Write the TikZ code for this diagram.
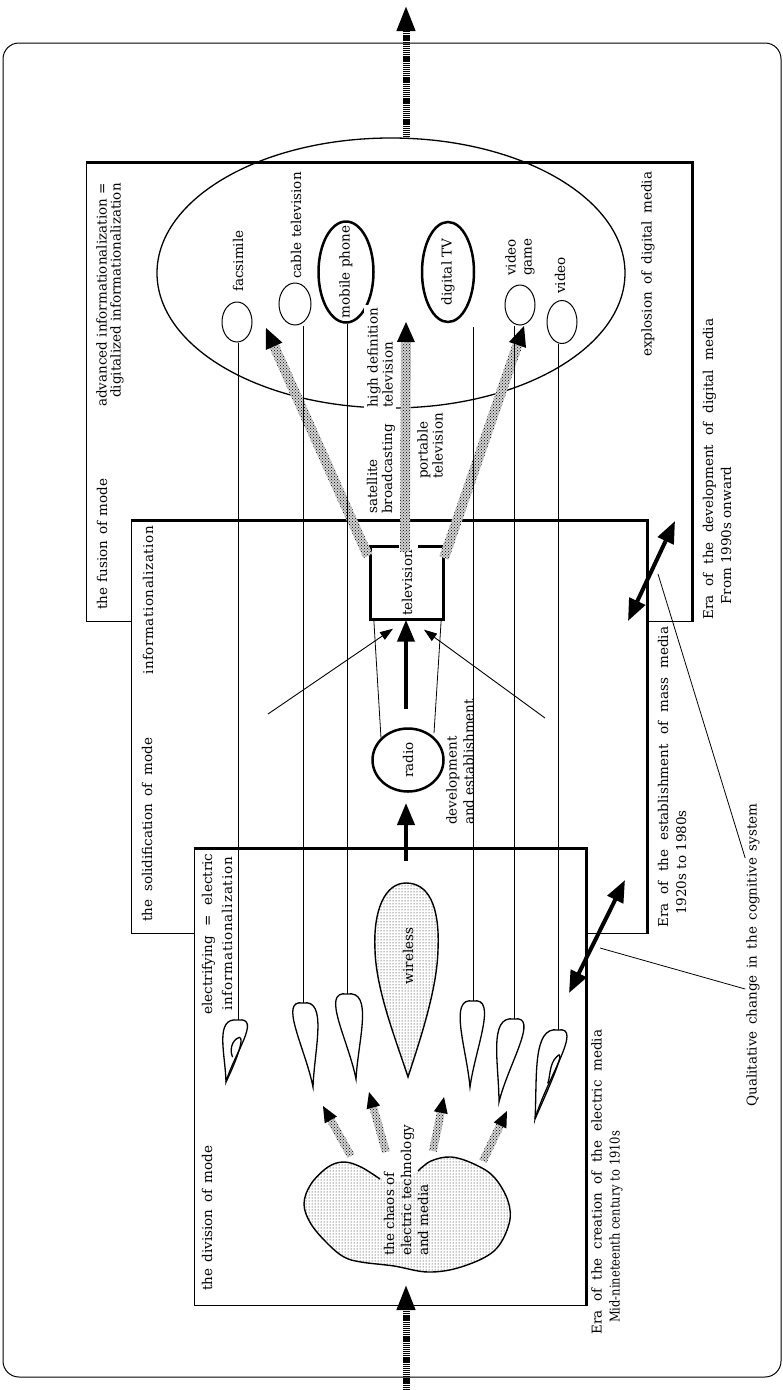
\documentclass[tikz,border=0pt]{standalone}
\usepackage{fontspec}
\setmainfont{DejaVu Serif}
\usetikzlibrary{arrows.meta,calc,patterns,shapes.geometric}

\tikzset{
  lbl/.style={rotate=90, inner sep=1pt, font=\fontsize{13.5}{16}\selectfont},
  erabox/.style={draw, fill=white, line width=1pt, inner sep=0pt},
  eraedge/.style={line width=2.3pt},
  thinline/.style={line width=0.8pt},
  media/.style={draw, ellipse, line width=1pt, inner sep=0pt},
  ring/.style={line width=2.5pt},
  fatarrow/.style={line width=4pt, -{Triangle[length=22pt,width=17pt]}},
  duoarrow/.style={line width=4pt, {Triangle[length=22pt,width=17pt]}-{Triangle[length=22pt,width=17pt]}},
  feeler/.style={line width=0.9pt, -{Triangle[length=13pt,width=9pt]}},
  timeline/.style={line width=7pt, dash pattern=on 1.3pt off 0.8pt, -{Triangle[length=26pt,width=17pt]}},
  petalline/.style={line width=1.3pt, fill=white},
}

% loose word spacing up to a given length (pt)
\newcommand\spread[2]{\makebox[#1pt][s]{#2}}
% squeeze text to a given length (pt)
\newcommand\squeeze[2]{\resizebox{#1pt}{\height}{#2}}

% name, top x, top y, tip x, tip y, half width
\newcommand\petal[6]{%
  \coordinate (#1) at (#2,#3);
  \draw[petalline] (#4,#5)
    .. controls ({#4+0.3*(#2-#4)-0.35*#6},{#5+0.45*(#3-#5)}) and ({#2-2*#6},{#3-0.05*(#5-#3)}) .. (#2,#3)
    .. controls ({#2+2*#6},{#3-0.05*(#5-#3)}) and ({#4+0.3*(#2-#4)+0.35*#6},{#5+0.45*(#3-#5)}) .. (#4,#5) -- cycle;}
% same, with a curl folded inside
\newcommand\curlpetal[6]{%
  \petal{#1}{#2}{#3}{#4}{#5}{#6}
  \draw[line width=1.3pt] (#4,#5)
    .. controls ({#4+0.35*(#2-#4)+0.9*#6},{#5+0.5*(#3-#5)}) and ({#2+0.6*#6},{#3+0.2*(#5-#3)}) .. ({#2-0.1*#6},{#3+0.3*(#5-#3)})
    .. controls ({#2-0.7*#6},{#3+0.38*(#5-#3)}) and ({#2-0.6*#6},{#3+0.55*(#5-#3)}) .. ({#4+0.55*(#2-#4)},{#3+0.6*(#5-#3)});}

% tail, tip, half shaft, head length, half head
\newcommand\shadearrow[5]{%
  \fill[preaction={fill=gray!35}, pattern=crosshatch dots]
    ($(#1)!#3!90:(#2)$) -- ($(#2)!#4!(#1)!#3!-90:(#1)$)
    -- ($(#2)!#4!(#1)!#3!90:(#1)$) -- ($(#1)!#3!-90:(#2)$) -- cycle;
  \fill ($(#2)!#4!(#1)!#5!90:(#1)$) -- (#2) -- ($(#2)!#4!(#1)!#5!-90:(#1)$) -- cycle;}

\begin{document}
\begin{tikzpicture}[x=1pt, y=-1pt]
\useasboundingbox (0,0) rectangle (783,1390);

% frame
\draw[line width=1pt, rounded corners=16pt] (3,43) rectangle (781,1377);

% the three eras
\node[erabox, minimum width=606, minimum height=458] (digital)  at (389,392)  {};
\draw[eraedge] (digital.north west) -- (digital.north east) -- (digital.south east);
\node[erabox, minimum width=516, minimum height=412] (mass)     at (389,727)  {};
\draw[eraedge] (mass.north west) -- (mass.north east) -- (mass.south east);
\node[erabox, minimum width=392, minimum height=456] (electric) at (390,1077) {};
\draw[eraedge] (electric.north west) -- (electric.north east) -- (electric.south east);

\node[lbl, anchor=west] (divlbl) at (207,1292) {\spread{145}{the division of mode}};
\node[lbl, align=center, font=\fontsize{13.5}{20}\selectfont] (eleclbl) at (217,934) {\spread{161}{electrifying = electric}\\{\addfontfeatures{LetterSpace=6}informationalization}};
\node[lbl, anchor=west] (sollbl) at (147,923) {\spread{184}{the solidification of mode}};
\node[lbl, anchor=west] (inflbl) at (148,676) {\addfontfeatures{LetterSpace=4}informationalization};
\node[lbl, anchor=west] (fuslbl) at (102,611) {\spread{131}{the fusion of mode}};
\node[lbl, anchor=east, align=right, font=\fontsize{13.5}{14}\selectfont] (advlbl) at (110,182) {advanced informationalization =\\digitalized informationalization};

\node[lbl, anchor=west, align=left, font=\fontsize{13.5}{18}\selectfont] (era1) at (607,1336) {\spread{305}{Era of the creation of the electric media}\\\hspace*{12pt}\squeeze{192}{Mid-nineteenth century to 1910s}};
\node[lbl, anchor=west, align=left, font=\fontsize{13.5}{18}\selectfont] (era2) at (672,929) {\spread{301}{Era of the establishment of mass media}\\\hspace*{13pt}1920s to 1980s};
\node[lbl, anchor=west, align=left, font=\fontsize{13.5}{18}\selectfont] (era3) at (717,621) {\spread{301}{Era of the development of digital media}\\\hspace*{15pt}From 1990s onward};
\node[lbl] (qual) at (753,955) {\spread{303}{Qualitative change in the cognitive system}};

% digital media
\node[draw, ellipse, line width=1.3pt, inner sep=0pt, minimum width=468, minimum height=270] (burst) at (391,273) {};
\node[media, minimum width=30, minimum height=40] (fax)   at (237,322) {};
\node[media, minimum width=32, minimum height=42] (cable) at (295,304) {};
\node[media, minimum width=30, minimum height=40] (game)  at (520,305) {};
\node[media, minimum width=30, minimum height=43] (video) at (562,322) {};
\node[lbl, anchor=west] at (238,293) {facsimile};
\node[lbl, anchor=west] at (296,280) {cable television};
\node[lbl, anchor=west, align=left] at (520,277) {video\\game};
\node[lbl, anchor=west] at (560,295) {video};
\node[lbl] (mobile) at (346,272) {mobile phone};
\draw[ring] (mobile.center) ellipse [x radius=27.5pt, y radius=50.5pt];
\node[lbl] (dtv) at (448,272) {digital TV};
\draw[ring] (dtv.center) ellipse [x radius=26pt, y radius=50pt];
\node[lbl, anchor=west] (explbl) at (648,358) {\spread{185}{explosion of digital media}};

% mass media
\node[minimum width=72, minimum height=73, inner sep=0pt, font=\fontsize{13.5}{16}\selectfont] (tv) at (407,583) {\rotatebox{90}{television}};
\draw[line width=3pt] ([xshift=-8pt]tv.north) -- (tv.north west) -- (tv.south west) -- (tv.south east) -- (tv.north east) -- ([xshift=11pt]tv.north);
\node[lbl] (radio) at (408,760) {radio};
\draw[ring] (radio.center) ellipse [x radius=35.5pt, y radius=31.5pt];
\coordinate (radioL) at (381,738);
\coordinate (radioR) at (434,733);
\draw[thinline] ([xshift=3pt]tv.south west) -- (radioL);
\draw[thinline] ([xshift=-2pt]tv.south east) -- (radioR);
\coordinate (radiotop) at (406,709);
\draw[fatarrow] (radiotop) -- (tv.south -| radiotop);
\node[lbl, anchor=west, align=left, font=\fontsize{13.5}{17}\selectfont] (devlbl) at (460,826) {development\\and establishment};
\coordinate (feelL) at (268,714);
\coordinate (feelR) at (545,718);
\draw[feeler] (feelL) -- ([shift={(-14pt,-9pt)}]tv.south);
\draw[feeler] (feelR) -- ([shift={(17pt,-10pt)}]tv.south);

% television spreads out
\coordinate (satfoot)  at (368,556);
\coordinate (sattip)   at (266,328);
\coordinate (hdfoot)   at (405,552);
\coordinate (hdtip)    at (406,322);
\coordinate (portfoot) at (444,558);
\coordinate (porttip)  at (524,326);
\shadearrow{satfoot}{sattip}{5pt}{20pt}{9pt}
\shadearrow{hdfoot}{hdtip}{5pt}{20pt}{9pt}
\shadearrow{portfoot}{porttip}{5pt}{20pt}{9pt}
\node[lbl, anchor=west, align=left, font=\fontsize{13.5}{15}\selectfont] (satlbl) at (381,515) {satellite\\broadcasting};
\node[lbl, anchor=west, align=left, font=\fontsize{13.5}{15}\selectfont, fill=white, inner sep=3pt] (hdlbl) at (380,411) {high definition\\television};
\node[lbl, anchor=west, align=left, font=\fontsize{13.5}{15}\selectfont] (portlbl) at (430,480) {portable\\television};

% electric media
\draw[line width=1.4pt, pattern=dots] (408,1077) .. controls (396,1040) and (376,990) .. (375,950)
  .. controls (373,910) and (385,883) .. (406,883) .. controls (428,883) and (440,905) .. (438,950)
  .. controls (437,990) and (420,1040) .. (408,1077) -- cycle;
\node[lbl] (wireless) at (408,956) {wireless};
\coordinate (wirelesstop) at (406,861);
\coordinate (radiofoot) at (406,803);
\draw[fatarrow] (wirelesstop) -- (radiofoot);

\curlpetal{p1}{238}{1020}{226}{1082}{12}
\petal{p2}{303}{1003}{313}{1087}{12.5}
\petal{p3}{347}{994}{356}{1079}{13.5}
\petal{p4}{473}{1001}{470}{1087}{12.5}
\petal{p5}{514}{1019}{499}{1102}{13}
\curlpetal{p6}{558}{1030}{535}{1119}{13}

\fill[pattern=dots] plot[smooth cycle, tension=0.6] coordinates {(380,1179) (361,1167) (344,1162) (328,1167) (311,1184) (304,1204) (311,1224) (328,1244) (344,1257) (361,1262) (394,1266) (428,1272) (461,1267) (494,1251) (509,1224) (508,1201) (494,1177) (474,1164) (451,1157) (431,1161) (418,1171) (400,1182)};
\draw[line width=1.4pt] plot[smooth, tension=0.6] coordinates {(418,1171) (431,1161) (451,1157) (474,1164) (494,1177) (508,1201) (509,1224) (494,1251) (461,1267) (428,1272) (394,1266) (361,1262) (344,1257) (328,1244) (311,1224) (304,1204) (311,1184) (328,1167) (344,1162) (361,1167) (380,1179)};
\node[lbl, anchor=west, align=left, font=\fontsize{13.5}{17}\selectfont] (chaos) at (406,1257) {the chaos of\\electric technology\\and media};

\coordinate (c1) at (351,1156); \coordinate (c1h) at (323,1106);
\coordinate (c2) at (386,1152); \coordinate (c2h) at (369,1092);
\coordinate (c3) at (433,1151); \coordinate (c3h) at (444,1097);
\coordinate (c4) at (483,1161); \coordinate (c4h) at (507,1111);
\shadearrow{c1}{c1h}{4pt}{16pt}{7pt}
\shadearrow{c2}{c2h}{4pt}{16pt}{7pt}
\shadearrow{c3}{c3h}{4pt}{16pt}{7pt}
\shadearrow{c4}{c4h}{4pt}{16pt}{7pt}

% modes running through
\draw[thinline] (p1) -- (fax.south -| p1);
\draw[thinline] (p2) -- (cable.south -| p2);
\coordinate (mobilefoot) at ([yshift=-52pt]mobile.center);
\draw[thinline] (p3) -- (mobilefoot -| p3);
\coordinate (dtvfoot) at ([yshift=-55pt]dtv.center);
\draw[thinline] (p4) -- (dtvfoot -| p4);
\draw[thinline] (p5) -- (game.south -| p5);
\draw[thinline] (p6) -- (video.south -| p6);

% era changes
\coordinate (qa1) at (569,993); \coordinate (qa2) at (625,880);
\coordinate (qb1) at (628,621); \coordinate (qb2) at (675,521);
\draw[duoarrow] (qa1) -- (qa2);
\draw[duoarrow] (qb1) -- (qb2);
\coordinate (qanote) at (600,948);
\coordinate (qbnote) at (658,574);
\draw[thinline] ([yshift=-34pt]qual.north) -- (qanote);
\draw[thinline] ([yshift=97pt]qual.north) -- (qbnote);

% time axis
\coordinate (pastend) at (406,1390);
\coordinate (chaosfoot) at (406,1284);
\coordinate (futureend) at (406,5);
\draw[timeline] (pastend) -- (chaosfoot);
\draw[timeline] (burst.north -| futureend) -- (futureend);
\end{tikzpicture}
\end{document}
